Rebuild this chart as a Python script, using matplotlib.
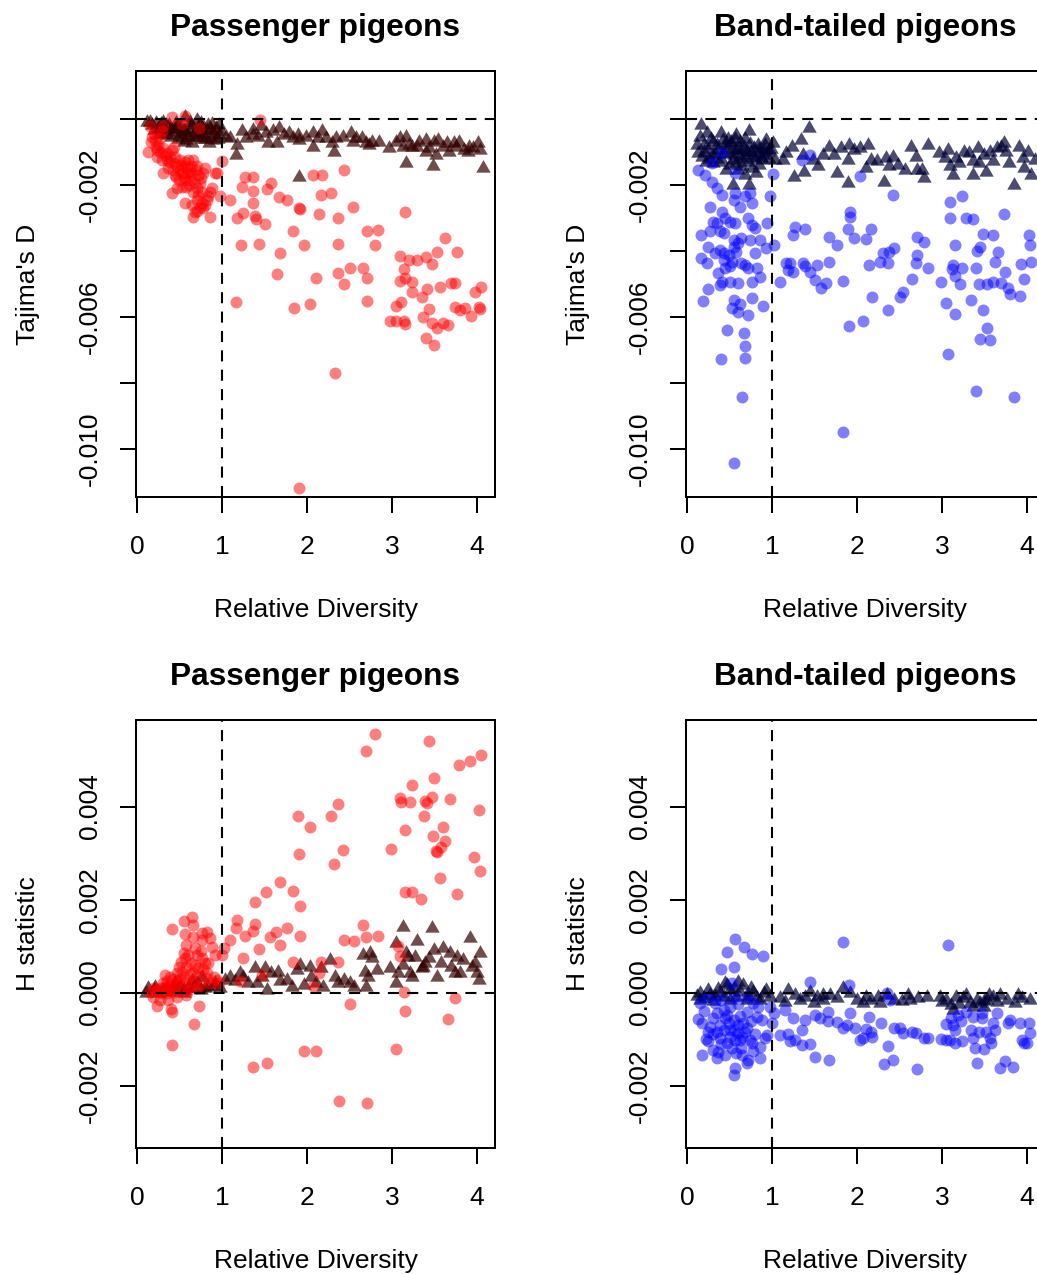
import numpy as np
import matplotlib
matplotlib.use("Agg")
import matplotlib.pyplot as plt

plt.rcParams['font.family'] = ['Liberation Sans', 'DejaVu Sans']

# values: (relative diversity, statistic x 1e3)

# passenger pigeon, Tajima's D
pp_tajima_circ = np.array([
    (0.13, -0.99), (0.17, -0.69), (0.21, -0.64), (0.25, -0.79), (0.29, -0.38), (0.27, -0.59),
    (0.31, -0.89), (0.35, -1.04), (0.31, -1.65), (0.23, -1.14), (0.29, -1.24), (0.35, -1.24),
    (0.39, -1.14), (0.43, -1.34), (0.41, -0.94), (0.45, -1.14), (0.47, -1.44), (0.51, -1.24),
    (0.53, -1.65), (0.55, -1.44), (0.56, -1.85), (0.58, -2.05), (0.60, -1.65), (0.62, -1.85),
    (0.64, -1.44), (0.66, -1.24), (0.70, -1.44), (0.72, -1.70), (0.74, -1.95), (0.78, -1.65),
    (0.80, -1.49), (0.60, -1.24), (0.49, -1.85), (0.41, -2.23), (0.47, -2.10), (0.53, -2.05),
    (0.56, -2.56), (0.66, -2.96), (0.68, -2.81), (0.74, -2.66), (0.76, -2.56), (0.78, -2.71),
    (0.86, -2.96), (0.86, -2.20), (0.88, -2.10), (0.84, -2.35), (0.92, -1.63), (0.94, -1.65),
    (1.00, -1.29), (0.98, -2.35), (1.09, -2.45), (0.70, -2.45), (0.82, -2.45), (0.45, -1.70),
    (0.20, -0.45), (0.24, -0.95), (0.37, -1.50), (0.50, -1.55), (0.63, -1.60), (0.68, -1.95),
    (0.57, -1.30), (0.43, -0.85), (0.66, -2.20), (0.72, -2.30),
    (0.18, -0.55), (0.22, -0.85), (0.27, -1.00), (0.33, -1.10), (0.38, -1.30), (0.42, -1.55),
    (0.46, -1.75), (0.52, -1.40), (0.55, -1.75), (0.59, -1.50), (0.61, -2.00), (0.64, -1.70),
    (0.69, -1.55), (0.71, -2.10), (0.75, -1.80), (0.77, -2.20), (0.65, -2.60), (0.80, -2.60),
    (0.70, -2.80),
    (0.41, 0.07), (0.56, 0.09), (0.53, -0.15), (0.73, -0.29), (0.15, -0.23), (0.31, -0.23),
    (1.45, -0.03),
    (1.18, -3.01), (1.25, -2.86), (1.22, -3.83), (1.27, -1.75), (1.36, -1.75), (1.24, -2.05),
    (1.36, -2.18), (1.37, -2.54), (1.39, -2.94), (1.40, -3.04), (1.44, -3.79), (1.51, -3.18),
    (1.53, -2.13), (1.58, -1.95), (1.67, -2.37), (1.68, -4.07), (1.65, -4.71), (1.77, -2.47),
    (1.84, -3.41), (1.90, -2.71), (1.92, -2.73), (1.97, -3.83), (1.17, -5.54), (1.85, -5.74),
    (2.04, -5.61), (1.90, -11.19), (2.07, -1.70), (2.18, -1.70), (2.16, -2.32), (2.28, -2.23),
    (2.14, -2.88), (2.37, -3.01), (2.36, -3.80), (2.44, -1.55), (2.54, -2.68), (2.11, -4.81),
    (2.36, -4.66), (2.43, -5.00), (2.51, -4.53), (2.66, -4.53), (2.71, -4.82), (2.71, -5.51),
    (2.71, -3.41), (2.84, -3.36), (2.80, -3.82), (2.33, -7.69), (3.15, -2.81), (3.09, -4.15),
    (3.20, -4.27), (3.29, -4.27), (3.40, -4.17), (3.47, -4.39), (3.53, -4.04), (3.62, -3.60),
    (3.77, -4.02), (3.14, -4.56), (3.09, -4.90), (3.15, -4.83), (3.24, -4.93), (3.23, -5.25),
    (3.35, -5.40), (3.41, -5.16), (3.56, -5.08), (3.70, -4.98), (3.74, -4.98), (3.98, -5.23),
    (4.05, -5.08), (3.11, -5.54), (3.05, -5.67), (2.98, -6.11), (3.05, -6.11), (3.14, -6.11),
    (3.15, -6.21), (3.37, -5.99), (3.44, -5.77), (3.47, -6.19), (3.53, -6.32), (3.60, -6.19),
    (3.66, -6.24), (3.40, -6.65), (3.49, -6.85), (3.74, -5.69), (3.80, -5.79), (3.86, -5.74),
    (3.93, -5.97), (4.02, -5.69), (4.03, -5.77),
])

pp_tajima_tri = np.array([
    (0.15, -0.08), (0.22, -0.13), (0.30, -0.08), (0.38, -0.18), (0.46, -0.13), (0.57, 0.07),
    (0.64, -0.18), (0.71, -0.03), (0.77, -0.28), (0.83, -0.18), (0.87, -0.33), (0.93, -0.28),
    (0.97, -0.48), (0.99, -0.38), (0.65, -0.74), (0.85, -0.74), (0.12, -0.10), (0.18, -0.20),
    (0.25, -0.30), (0.28, -0.15), (0.33, -0.35), (0.36, -0.25), (0.42, -0.40), (0.45, -0.30),
    (0.50, -0.45), (0.52, -0.25), (0.55, -0.35), (0.60, -0.50), (0.62, -0.30), (0.68, -0.40),
    (0.70, -0.55), (0.73, -0.45), (0.78, -0.45), (0.80, -0.60), (0.86, -0.55), (0.90, -0.45),
    (0.95, -0.60), (0.40, -0.55), (0.48, -0.60), (0.58, -0.65), (0.35, -0.50), (0.30, -0.45),
    (0.62, -0.08), (0.88, -0.15), (0.75, -0.12),
    (0.20, -0.35), (0.26, -0.45), (0.34, -0.20), (0.39, -0.32), (0.47, -0.22), (0.53, -0.55),
    (0.57, -0.40), (0.66, -0.55), (0.72, -0.25), (0.76, -0.60), (0.82, -0.35), (0.92, -0.65),
    (0.97, -0.20), (0.55, -0.70),
    (1.05, -0.54), (1.09, -0.59), (1.16, -1.09), (1.18, -0.79), (1.24, -0.38), (1.28, -0.59),
    (1.36, -0.48), (1.36, -0.33), (1.42, -0.54), (1.52, -0.43), (1.46, -0.23), (1.60, -0.38),
    (1.54, -0.74), (1.67, -0.28), (1.65, -0.74), (1.73, -0.48), (1.79, -0.43), (1.83, -0.59),
    (1.89, -0.48), (1.91, -0.64), (1.90, -1.75), (1.99, -0.54), (2.07, -0.43), (2.07, -0.84),
    (2.13, -0.59), (2.18, -0.38), (2.22, -0.59), (2.30, -0.74), (2.34, -0.59), (2.32, -0.99),
    (2.42, -0.54), (2.52, -0.43), (2.54, -0.69), (2.58, -0.59), (2.65, -0.59), (2.69, -0.74),
    (2.73, -0.79), (2.77, -0.69), (2.85, -0.69), (2.97, -0.89), (3.05, -0.69), (3.09, -0.59),
    (3.13, -0.84), (3.16, -0.54), (3.16, -1.34), (3.20, -0.79), (3.24, -0.84), (3.30, -0.84),
    (3.32, -0.69), (3.40, -0.64), (3.40, -0.99), (3.44, -0.89), (3.48, -1.44), (3.50, -0.69),
    (3.52, -1.09), (3.54, -0.64), (3.60, -0.84), (3.65, -0.74), (3.67, -0.99), (3.73, -0.74),
    (3.75, -0.84), (3.79, -0.69), (3.85, -0.94), (3.89, -0.99), (3.91, -0.84), (3.95, -0.89),
    (4.01, -0.74), (4.03, -0.94), (4.07, -1.49),
])

# band-tailed pigeon, Tajima's D
bt_tajima_circ = np.array([
    (0.13, -1.55), (0.21, -1.70), (0.29, -1.90), (0.35, -2.10), (0.41, -2.30), (0.27, -2.66),
    (0.31, -3.11), (0.35, -3.16), (0.41, -2.81), (0.45, -3.01), (0.51, -3.11), (0.56, -3.16),
    (0.56, -2.25), (0.55, -2.45), (0.62, -2.66), (0.68, -2.35), (0.74, -2.25), (0.76, -2.56),
    (0.72, -3.01), (0.76, -3.21), (0.80, -3.31), (0.74, -3.67), (0.55, -3.67), (0.60, -3.77),
    (0.64, -3.62), (0.43, -3.46), (0.39, -3.41), (0.17, -3.52), (0.27, -3.41), (0.25, -3.87),
    (0.33, -4.07), (0.39, -3.97), (0.43, -4.07), (0.49, -4.12), (0.55, -3.87), (0.58, -4.02),
    (0.53, -4.32), (0.51, -4.47), (0.45, -4.53), (0.37, -4.68), (0.43, -4.27), (0.17, -4.22),
    (0.23, -4.37), (0.41, -4.93), (0.39, -5.03), (0.25, -5.14), (0.19, -5.51), (0.51, -4.93),
    (0.60, -4.98), (0.64, -4.37), (0.68, -4.42), (0.72, -4.53), (0.76, -4.93), (0.80, -4.07),
    (0.82, -4.53), (0.86, -3.67), (0.86, -4.78), (0.89, -5.67), (0.77, -5.41), (0.72, -5.94),
    (0.62, -5.62), (0.60, -5.84), (0.55, -5.48), (0.53, -5.74), (0.47, -6.39), (0.67, -6.49),
    (0.68, -6.88), (0.68, -7.25), (0.40, -7.28), (0.65, -8.41), (0.55, -10.41), (0.94, -3.16),
    (0.93, -3.92), (1.02, -3.82), (0.98, -2.33), (1.01, -1.68), (0.41, -1.02), (0.29, -1.34),
    (0.56, -1.65), (1.35, -1.24), (1.45, -1.09), (2.04, -1.73),
    (1.09, -4.93), (1.17, -4.35), (1.21, -4.35), (1.19, -4.58), (1.25, -4.63), (1.25, -3.52),
    (1.27, -3.26), (1.39, -3.34), (1.37, -4.35), (1.39, -4.47), (1.45, -4.64), (1.51, -4.88),
    (1.53, -4.42), (1.58, -5.11), (1.64, -4.98), (1.67, -4.34), (1.67, -3.59), (1.77, -3.82),
    (1.84, -4.90), (1.89, -3.34), (1.92, -2.81), (1.92, -2.96), (1.97, -3.62), (2.11, -3.65),
    (2.16, -3.34), (2.14, -4.42), (2.18, -5.38), (1.90, -6.26), (2.07, -6.12), (1.84, -9.49),
    (2.27, -4.32), (2.31, -4.05), (2.37, -4.35), (2.38, -4.02), (2.43, -3.92), (2.36, -5.79),
    (2.42, -2.30), (2.51, -5.40), (2.54, -5.25), (2.65, -4.85), (2.71, -3.57), (2.71, -4.12),
    (2.70, -4.37), (2.79, -3.74), (2.83, -4.52), (2.99, -4.94), (3.05, -5.57), (3.15, -5.92),
    (3.07, -7.13), (3.09, -2.51), (3.09, -3.01), (3.23, -2.35), (3.28, -3.01), (3.37, -3.03),
    (3.15, -3.83), (3.13, -4.42), (3.12, -4.56), (3.15, -4.76), (3.24, -4.52), (3.21, -5.00),
    (3.34, -5.48), (3.40, -4.53), (3.41, -3.99), (3.45, -3.87), (3.43, -5.00), (3.48, -3.48),
    (3.53, -5.00), (3.60, -3.52), (3.60, -4.93), (3.62, -4.32), (3.66, -4.02), (3.70, -4.96),
    (3.74, -4.63), (3.78, -5.13), (3.80, -5.30), (3.73, -2.88), (3.92, -5.36), (3.93, -4.38),
    (3.97, -4.84), (4.02, -3.52), (4.03, -3.82), (4.05, -4.32), (3.48, -5.79), (3.53, -6.32),
    (3.45, -6.68), (3.56, -6.70), (3.40, -8.23), (3.85, -8.43),
])

bt_tajima_tri = np.array([
    (0.16, -0.18), (0.24, -0.43), (0.40, -0.43), (0.58, -0.48), (0.73, -0.38), (0.93, -0.64),
    (1.01, -0.74), (0.13, -1.04), (0.20, -0.79), (0.30, -0.69), (0.36, -0.94), (0.46, -0.74),
    (0.50, -1.04), (0.56, -0.94), (0.62, -1.14), (0.67, -0.84), (0.71, -0.99), (0.79, -0.89),
    (0.85, -1.04), (0.91, -0.94), (0.97, -0.94), (1.03, -1.24), (0.54, -1.24), (0.65, -1.44),
    (0.77, -1.49), (0.81, -1.65), (0.73, -2.00), (0.54, -2.00), (0.46, -1.55),
    (0.20, -1.00), (0.25, -0.90), (0.30, -1.10), (0.35, -0.80), (0.40, -1.20), (0.45, -0.90),
    (0.50, -0.80), (0.55, -1.10), (0.60, -0.90), (0.65, -1.20), (0.70, -1.10), (0.75, -1.00),
    (0.80, -1.20), (0.85, -0.90), (0.90, -1.10), (0.95, -1.00), (0.28, -0.60), (0.48, -0.60),
    (0.62, -0.70), (0.38, -1.30), (0.58, -1.35), (0.72, -1.30), (0.88, -1.25), (0.22, -1.30),
    (0.12, -0.80),
    (0.15, -0.55), (0.18, -1.15), (0.26, -1.20), (0.33, -1.05), (0.42, -0.65), (0.44, -1.05),
    (0.52, -0.70), (0.57, -0.60), (0.63, -0.95), (0.68, -0.60), (0.74, -0.75), (0.78, -1.15),
    (0.83, -0.80), (0.87, -1.15), (0.92, -0.80), (0.96, -1.20), (0.99, -0.90), (0.60, -1.55),
    (0.68, -1.70), (0.50, -1.40), (0.85, -1.40), (0.30, -1.35),
    (1.13, -1.24), (1.16, -1.04), (1.24, -0.84), (1.26, -1.75), (1.34, -0.64), (1.36, -1.09),
    (1.38, -1.60), (1.44, -0.28), (1.48, -1.24), (1.54, -1.44), (1.60, -1.09), (1.67, -0.84),
    (1.73, -1.09), (1.77, -1.65), (1.81, -0.89), (1.89, -1.24), (1.89, -1.95), (1.91, -0.79),
    (1.97, -0.94), (2.03, -0.89), (2.13, -0.79), (2.16, -1.24), (2.11, -1.49), (2.24, -1.29),
    (2.32, -1.90), (2.34, -1.19), (2.38, -1.44), (2.42, -1.14), (2.48, -1.39), (2.56, -1.55),
    (2.64, -0.84), (2.69, -1.14), (2.71, -1.55), (2.77, -1.55), (2.79, -1.80), (2.83, -0.79),
    (2.97, -1.04), (3.03, -1.19), (3.07, -0.94), (3.09, -1.44), (3.13, -1.70), (3.16, -1.19),
    (3.20, -1.34), (3.26, -0.99), (3.32, -1.04), (3.36, -1.29), (3.36, -1.70), (3.42, -0.89),
    (3.44, -1.34), (3.50, -1.09), (3.52, -1.60), (3.56, -0.99), (3.60, -1.29), (3.65, -0.89),
    (3.69, -0.84), (3.73, -0.74), (3.75, -0.99), (3.79, -1.34), (3.85, -2.00), (3.91, -0.84),
    (3.95, -1.19), (3.97, -1.49), (4.01, -0.99), (4.05, -1.70), (4.09, -1.24),
])

# passenger pigeon, H statistic
pp_h_circ = np.array([
    (2.80, 5.56), (2.70, 5.20), (3.44, 5.41), (4.05, 5.11), (3.92, 4.98), (3.79, 4.90),
    (3.49, 4.61), (3.23, 4.47), (3.09, 4.18), (3.11, 4.09), (3.21, 4.09), (3.39, 4.11),
    (3.41, 4.07), (3.47, 4.20), (3.68, 4.16), (4.02, 3.93), (3.38, 3.80), (3.15, 3.50),
    (3.60, 3.55), (3.48, 3.37), (3.62, 3.25), (3.58, 3.13), (3.52, 3.05), (3.53, 3.03),
    (2.99, 3.08), (3.97, 2.92), (4.03, 2.62), (3.56, 2.46), (3.77, 2.11), (3.15, 2.16),
    (3.24, 2.17), (3.34, 2.01), (1.89, 3.80), (2.04, 3.57), (2.28, 3.80), (2.36, 4.06),
    (1.90, 2.97), (2.42, 3.07), (2.32, 2.76), (1.68, 2.37), (1.84, 2.19), (1.92, 1.86),
    (1.52, 2.16), (1.39, 1.94), (1.18, 1.56), (1.16, 1.38), (1.39, 1.48), (1.27, 1.22),
    (1.36, 1.33), (1.09, 1.13), (1.56, 1.20), (1.64, 1.31), (1.68, 1.03), (1.77, 1.38),
    (1.92, 1.22), (1.44, 0.94), (1.25, 0.75), (2.66, 1.46), (2.70, 1.20), (2.83, 1.22),
    (2.43, 1.13), (2.55, 1.11), (3.07, 1.00), (3.09, 0.79), (1.84, 0.65), (2.17, 0.65),
    (2.37, 0.65), (2.14, 0.42), (2.07, 0.14), (1.21, 0.24), (1.47, 0.38), (3.14, 0.02),
    (3.15, -0.39), (3.74, -0.11), (3.66, -0.57), (2.51, -0.24), (3.05, -1.22), (1.96, -1.25),
    (2.11, -1.26), (1.37, -1.59), (1.53, -1.52), (2.38, -2.33), (2.71, -2.37), (0.41, -1.13),
    (0.67, -0.68), (0.73, -0.29), (0.40, -0.36), (0.41, -0.41), (0.23, -0.29),
    (0.41, 1.36), (0.55, 1.55), (0.65, 1.62), (0.66, 1.46), (0.56, 1.26), (0.66, 1.20),
    (0.76, 1.29), (0.82, 1.31), (0.76, 1.13), (0.86, 1.17), (0.88, 0.99), (0.92, 0.81),
    (1.00, 0.81), (1.02, 0.95), (0.55, 0.85), (0.56, 0.74), (0.70, 0.81), (0.76, 0.74),
    (0.49, 0.56), (0.64, 0.63), (0.80, 0.63), (0.47, 0.42), (0.39, 0.34), (0.33, 0.38),
    (0.55, 0.34), (0.66, 0.42), (0.82, 0.42), (0.90, 0.34), (0.94, 0.27), (0.31, 0.20),
    (0.39, 0.16), (0.47, 0.24), (0.56, 0.20), (0.66, 0.24), (0.74, 0.16), (0.86, 0.20),
    (0.96, 0.20), (0.23, 0.06), (0.29, -0.01), (0.35, -0.01), (0.43, 0.02), (0.51, 0.06),
    (0.60, 0.06), (0.70, 0.09), (0.15, 0.02), (0.19, -0.09), (0.27, -0.16), (0.37, -0.16),
    (0.47, -0.09), (0.58, -0.05), (0.82, 0.31), (0.72, 0.52), (0.58, 1.03), (0.84, 0.63),
    (0.20, 0.10), (0.25, 0.05), (0.33, 0.12), (0.38, 0.05), (0.45, 0.12), (0.50, 0.30),
    (0.53, 0.45), (0.58, 0.55), (0.62, 0.40), (0.68, 0.60), (0.72, 0.35), (0.78, 0.50),
    (0.60, 0.80), (0.68, 0.95), (0.52, 0.65), (0.62, 0.15), (0.42, 0.30), (0.35, 0.25),
    (0.28, 0.10), (0.75, 0.90),
])

pp_h_tri = np.array([
    (0.13, 0.09), (0.21, 0.13), (0.31, 0.06), (0.43, 0.09), (0.55, 0.06), (0.66, 0.09),
    (0.76, 0.34), (0.84, 0.13), (0.92, 0.20), (0.98, 0.09), (0.10, 0.00), (0.20, 0.05),
    (0.25, 0.00), (0.35, 0.10), (0.40, 0.02), (0.50, 0.15), (0.60, 0.10), (0.70, 0.20),
    (0.80, 0.10), (0.90, 0.15), (0.45, 0.20), (0.65, 0.25), (0.55, 0.00), (0.75, 0.05),
    (1.04, 0.27), (1.09, 0.34), (1.15, 0.24), (1.21, 0.42), (1.25, 0.34), (1.31, 0.20),
    (1.39, 0.52), (1.41, 0.20), (1.47, 0.34), (1.51, 0.52), (1.53, 0.06), (1.58, 0.42),
    (1.66, 0.45), (1.68, 0.24), (1.76, 0.27), (1.82, 0.13), (1.88, 0.49), (1.92, 0.59),
    (1.96, 0.16), (2.04, 0.56), (2.05, 0.34), (2.11, 0.20), (2.17, 0.52), (2.19, 0.13),
    (2.27, 0.70), (2.33, 0.34), (2.37, 0.20), (2.43, 0.27), (2.51, 0.20), (2.55, 0.13),
    (2.66, 0.81), (2.68, 0.45), (2.70, 0.13), (2.72, 0.34), (2.76, 0.74), (2.82, 0.49),
    (2.98, 0.52), (3.05, 1.06), (3.07, 0.42), (3.05, 0.20), (3.13, 1.42), (3.13, 0.59),
    (3.17, 0.85), (3.21, 0.42), (3.23, 0.34), (3.29, 1.10), (3.37, 0.56), (3.39, 0.63),
    (3.43, 0.74), (3.47, 1.38), (3.49, 0.92), (3.53, 0.34), (3.58, 0.63), (3.60, 0.95),
    (3.68, 0.85), (3.70, 0.56), (3.76, 0.77), (3.80, 0.42), (3.84, 0.70), (3.92, 1.17),
    (3.94, 0.56), (4.00, 0.42), (4.04, 0.85), (4.02, 0.27), (2.74, 0.85), (3.19, 0.77),
    (3.27, 0.77), (3.35, 0.52), (3.98, 0.63), (3.74, 0.42),
])

# band-tailed pigeon, H statistic
bt_h_circ = np.array([
    (0.56, 1.15), (0.47, 0.87), (0.67, 0.99), (0.77, 0.82), (0.89, 0.79), (0.40, 0.50),
    (0.55, 0.54), (1.84, 1.08), (3.07, 1.02), (1.45, 0.22), (1.90, 0.16), (2.35, -0.01),
    (2.39, -0.16), (0.53, 0.20),
    (0.13, -0.57), (0.18, -0.66), (0.25, -0.84), (0.25, -1.05), (0.31, -1.23), (0.37, -1.27),
    (0.18, -1.35), (0.39, -0.98), (0.43, -0.80), (0.49, -0.66), (0.55, -0.59), (0.60, -0.70),
    (0.68, -0.84), (0.74, -1.02), (0.76, -1.09), (0.86, -1.16), (0.86, -1.40), (0.72, -1.45),
    (0.70, -1.52), (0.56, -1.61), (0.55, -1.77), (0.53, -1.20), (0.64, -1.20), (0.47, -1.09),
    (0.56, -1.02), (0.60, -0.87), (0.35, -0.44), (0.47, -0.48), (0.70, -0.41), (0.82, -0.52),
    (0.88, -0.59), (0.94, -0.91), (0.92, -0.98), (1.00, -0.66), (1.02, -0.44), (0.98, -0.30),
    (0.27, -0.73), (0.51, -0.80), (0.62, -1.02), (0.43, -0.37), (0.33, -0.23), (0.78, -0.23),
    (0.15, -0.23), (0.84, -0.30), (0.39, -0.70), (0.66, -0.66),
    (0.20, -0.40), (0.30, -0.55), (0.35, -0.85), (0.40, -1.10), (0.45, -0.55), (0.50, -0.95),
    (0.55, -0.80), (0.58, -1.30), (0.62, -0.50), (0.65, -0.95), (0.70, -0.75), (0.75, -0.60),
    (0.80, -0.90), (0.45, -1.35), (0.30, -0.90), (0.22, -1.00), (0.35, -1.40), (0.65, -1.35),
    (0.78, -1.25), (0.40, -0.15), (0.50, -0.30), (0.60, -0.25), (0.70, -0.10), (0.25, -0.10),
    (0.55, -0.10),
    (1.09, -0.91), (1.15, -0.37), (1.19, -0.89), (1.21, -1.05), (1.25, -0.55), (1.27, -1.02),
    (1.35, -0.80), (1.39, -0.59), (1.35, -1.13), (1.45, -1.11), (1.51, -0.48), (1.51, -1.38),
    (1.56, -0.55), (1.66, -0.41), (1.67, -1.45), (1.66, -0.62), (1.76, -0.64), (1.84, -0.75),
    (1.88, -0.70), (1.92, -0.43), (1.98, -0.77), (2.04, -1.02), (2.07, -0.98), (2.11, -0.78),
    (2.14, -0.53), (2.17, -0.84), (2.18, -0.95), (2.28, -0.66), (2.36, -1.14), (2.32, -1.54),
    (2.42, -1.45), (2.43, -0.77), (2.51, -0.77), (2.54, -0.87), (2.65, -0.84), (2.70, -0.87),
    (2.71, -1.65), (2.79, -0.98), (2.83, -0.98), (2.99, -1.00), (3.05, -1.02), (3.05, -0.67),
    (3.09, -1.02), (3.11, -0.55), (3.13, -0.70), (3.15, -0.80), (3.15, -1.09), (3.19, -0.48),
    (3.22, -0.62), (3.23, -1.05), (3.28, -0.41), (3.34, -0.80), (3.37, -0.98), (3.39, -1.20),
    (3.41, -1.51), (3.43, -0.84), (3.47, -0.55), (3.49, -1.22), (3.52, -0.84), (3.56, -0.98),
    (3.60, -0.66), (3.62, -0.80), (3.58, -1.09), (3.65, -0.43), (3.68, -1.61), (3.74, -1.48),
    (3.78, -0.66), (3.80, -0.59), (3.84, -1.59), (3.92, -0.66), (3.94, -1.02), (3.97, -1.09),
    (4.02, -0.66), (4.04, -0.87), (4.00, -1.09), (3.37, -0.52), (3.47, -0.44),
])

bt_h_tri = np.array([
    (0.15, -0.01), (0.27, -0.05), (0.39, -0.01), (0.47, 0.16), (0.55, 0.09), (0.66, 0.16),
    (0.78, 0.02), (0.90, -0.01), (0.98, -0.09), (1.09, -0.12), (1.19, 0.06), (1.27, -0.05),
    (1.33, -0.16), (1.39, -0.09), (1.45, 0.02), (1.53, -0.09), (1.60, -0.16), (1.68, -0.05),
    (1.76, -0.12), (1.84, 0.09), (1.92, -0.01), (2.00, -0.16), (2.07, -0.23), (2.17, -0.16),
    (2.27, -0.23), (2.35, -0.05), (2.43, -0.16), (2.53, -0.19), (2.62, -0.16), (2.72, -0.12),
    (2.82, -0.09), (2.98, -0.09), (3.05, -0.16), (3.11, -0.27), (3.17, -0.09), (3.25, -0.12),
    (3.33, -0.23), (3.41, -0.16), (3.45, -0.23), (3.53, -0.16), (3.60, -0.09), (3.68, -0.05),
    (3.76, -0.16), (3.86, -0.23), (3.94, -0.12), (4.04, -0.16), (0.51, -0.16), (0.70, -0.16),
    (0.31, -0.19), (0.86, -0.16), (1.49, -0.23), (2.11, -0.09), (3.13, -0.37), (3.37, -0.30),
    (3.49, -0.19), (0.15, -0.16),
    (0.12, -0.08), (0.20, -0.12), (0.25, 0.05), (0.33, -0.08), (0.37, 0.08), (0.43, -0.10),
    (0.50, 0.05), (0.58, -0.10), (0.62, 0.02), (0.72, -0.08), (0.75, 0.10), (0.82, -0.12),
    (0.93, 0.05), (0.45, 0.20), (0.60, 0.22), (1.15, -0.20), (1.60, -0.05), (2.25, -0.10),
    (2.60, -0.05), (3.00, -0.20), (3.20, -0.25), (3.50, -0.30), (3.65, -0.20), (3.90, -0.05),
    (3.28, -0.05), (3.55, -0.05),
])

W, H = 1037, 1274
fig = plt.figure(figsize=(W / 100, H / 100), dpi=100)

# equilateral triangle, like R's pch 17
tri_marker = [(-1, -0.577), (1, -0.577), (0, 1.155)]
dash = (0, (5.3, 4.0))


def panel(left_px, top_px, bottom_px, circ, tri, circ_col, tri_col, title, ylabel,
          ylim, yticks, ylabels):
    ax = fig.add_axes([left_px / W, 1 - bottom_px / H, 359 / W, (bottom_px - top_px) / H])
    ax.scatter(tri[:, 0], tri[:, 1] * 1e-3, marker=tri_marker, s=145, color=tri_col,
               linewidths=0, zorder=2)
    ax.scatter(circ[:, 0], circ[:, 1] * 1e-3, marker='o', s=74, color=circ_col,
               linewidths=0, zorder=3)
    ax.axhline(0, color='black', lw=1.5, ls=dash, zorder=4)
    ax.axvline(1, color='black', lw=1.5, ls=dash, zorder=4)
    ax.set_xlim(-0.012, 4.212)
    ax.set_ylim(*ylim)
    ax.set_xticks([0, 1, 2, 3, 4])
    ax.set_xticklabels(['0', '1', '2', '3', '4'])
    ax.set_yticks(yticks)
    ax.set_yticklabels(ylabels, rotation=90, va='center')
    ax.tick_params(axis='both', length=11.5, width=1.44, labelsize=19, color='black')
    ax.tick_params(axis='x', pad=16)
    ax.tick_params(axis='y', pad=13)
    for sp in ax.spines.values():
        sp.set_linewidth(1.44)
    ax.set_title(title, fontsize=22.8, fontweight='bold', pad=25)
    ax.set_xlabel('Relative Diversity', fontsize=19, labelpad=28)
    ax.set_ylabel(ylabel, fontsize=19, labelpad=27)
    return ax


red = (1, 0, 0, 0.5)
blue = (0, 0, 1, 0.5)
dark_red = (0.2, 0, 0, 0.7)
dark_blue = (0, 0, 0.2, 0.7)

d_ticks = [0, -0.002, -0.004, -0.006, -0.008, -0.010]
d_labels = ['', '-0.002', '', '-0.006', '', '-0.010']
h_ticks = [-0.002, 0, 0.002, 0.004]
h_labels = ['-0.002', '0.000', '0.002', '0.004']

panel(136, 71, 497, pp_tajima_circ, pp_tajima_tri, red, dark_red, 'Passenger pigeons',
      "Tajima's D", (-0.01145, 0.00145), d_ticks, d_labels)
panel(686, 71, 497, bt_tajima_circ, bt_tajima_tri, blue, dark_blue, 'Band-tailed pigeons',
      "Tajima's D", (-0.01145, 0.00145), d_ticks, d_labels)
panel(136, 720, 1148, pp_h_circ, pp_h_tri, red, dark_red, 'Passenger pigeons',
      'H statistic', (-0.00334, 0.00586), h_ticks, h_labels)
panel(686, 720, 1148, bt_h_circ, bt_h_tri, blue, dark_blue, 'Band-tailed pigeons',
      'H statistic', (-0.00334, 0.00586), h_ticks, h_labels)

fig.savefig('out.png', dpi=100)
